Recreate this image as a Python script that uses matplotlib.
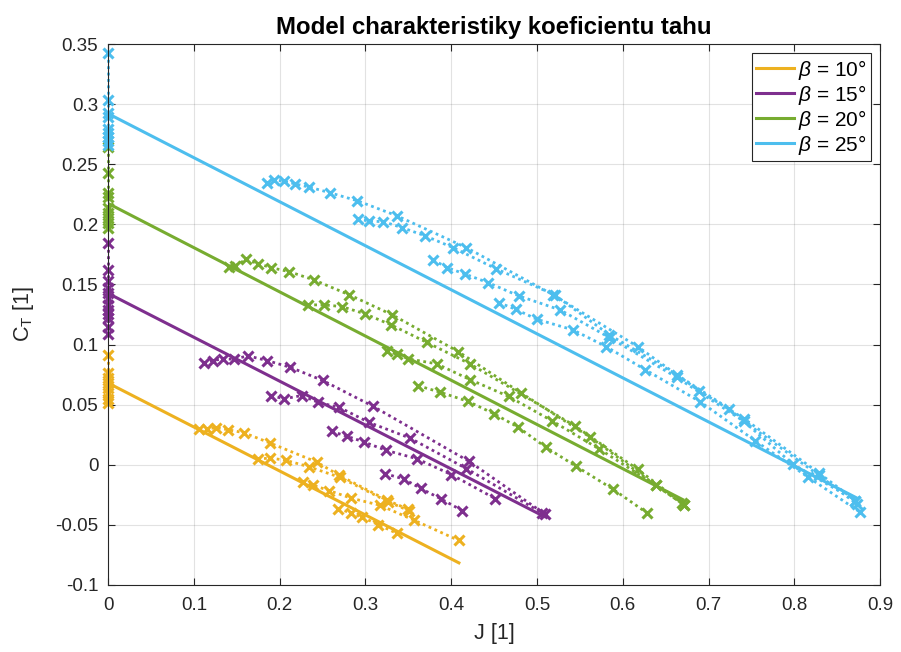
import matplotlib.pyplot as plt

plt.rcParams['font.family'] = ['Liberation Sans', 'DejaVu Sans']
plt.rcParams['mathtext.fontset'] = 'custom'
plt.rcParams['mathtext.rm'] = 'Liberation Sans'
plt.rcParams['mathtext.it'] = 'Liberation Sans:italic'

betas = [10, 15, 20, 25]
colors = ['#EDB120', '#7E2F8E', '#77AC30', '#4DBEEE']

# linear model of CT(J) for each pitch angle
model_J_end = [0.409, 0.508, 0.670, 0.873]
model_CT_start = [0.0680, 0.1426, 0.2174, 0.2921]
model_CT_end = [-0.0816, -0.0429, -0.0290, -0.0277]

# static measurements (J = 0)
static_CT_10 = [0.0909, 0.0762, 0.0718, 0.0676, 0.0635, 0.0593, 0.0551, 0.0512]
static_CT_15 = [0.1848, 0.1620, 0.1529, 0.1468, 0.1432, 0.1385, 0.1332, 0.1291,
                0.1257, 0.1218, 0.1150, 0.1086]
static_CT_20 = [0.2645, 0.2423, 0.2257, 0.2229, 0.2132, 0.2096, 0.2055, 0.2013, 0.1966]
static_CT_25 = [0.3428, 0.3032, 0.2927, 0.2894, 0.2794, 0.2761, 0.2728, 0.2694, 0.2661]

# wind tunnel sweeps, beta = 10
J_10 = [[0.1058, 0.1155, 0.1264, 0.1395, 0.1581, 0.1892, 0.2434, 0.2695, 0.3256, 0.3492],
        [0.1744, 0.1892, 0.2073, 0.2337, 0.2706, 0.3267, 0.3512],
        [0.2267, 0.2395, 0.2578, 0.2829, 0.3171, 0.3570, 0.4090],
        [0.2686, 0.2829, 0.2965, 0.3151, 0.3364]]
CT_10 = [[0.0300, 0.0300, 0.0308, 0.0292, 0.0267, 0.0180, 0.0022, -0.0088, -0.0296, -0.0368],
         [0.0047, 0.0056, 0.0037, -0.0016, -0.0105, -0.0308, -0.0383],
         [-0.0144, -0.0171, -0.0215, -0.0277, -0.0337, -0.0462, -0.0630],
         [-0.0365, -0.0401, -0.0437, -0.0498, -0.0570]]

# beta = 15
J_15 = [[0.1116, 0.1221, 0.1341, 0.1465, 0.1631, 0.1852, 0.2124, 0.2503, 0.3093, 0.4209, 0.5090],
        [0.1903, 0.2055, 0.2259, 0.2453, 0.2698, 0.3043, 0.3520, 0.4178, 0.5058],
        [0.2608, 0.2791, 0.2985, 0.3241, 0.3597, 0.4003, 0.4515],
        [0.3229, 0.3450, 0.3643, 0.3876, 0.4128]]
CT_15 = [[0.0845, 0.0867, 0.0881, 0.0878, 0.0906, 0.0867, 0.0811, 0.0701, 0.0485, 0.0028, -0.0409],
         [0.0574, 0.0549, 0.0576, 0.0518, 0.0477, 0.0352, 0.0222, -0.0032, -0.0400],
         [0.0277, 0.0236, 0.0189, 0.0120, 0.0051, -0.0082, -0.0282],
         [-0.0074, -0.0119, -0.0196, -0.0282, -0.0381]]

# beta = 20
J_20 = [[0.1407, 0.1485, 0.1608, 0.1748, 0.1899, 0.2113, 0.2403, 0.2814, 0.3314, 0.4081,
         0.4817, 0.5620, 0.6387, 0.6709],
        [0.2329, 0.2512, 0.2724, 0.2997, 0.3299, 0.3713, 0.4217, 0.5438, 0.6174, 0.6686],
        [0.3248, 0.3364, 0.3500, 0.3829, 0.4224, 0.4671, 0.5174, 0.5729, 0.6387, 0.6709],
        [0.3616, 0.3869, 0.4198, 0.4500, 0.4779, 0.5101, 0.5457, 0.5884, 0.6283]]
CT_20 = [[0.1648, 0.1656, 0.1708, 0.1673, 0.1640, 0.1606, 0.1537, 0.1413, 0.1247, 0.0942,
          0.0596, 0.0230, -0.0171, -0.0331],
         [0.1330, 0.1330, 0.1316, 0.1255, 0.1164, 0.1019, 0.0840, 0.0325, -0.0038, -0.0316],
         [0.0948, 0.0919, 0.0881, 0.0840, 0.0707, 0.0568, 0.0366, 0.0130, -0.0171, -0.0331],
         [0.0657, 0.0604, 0.0527, 0.0424, 0.0313, 0.0147, -0.0013, -0.0202, -0.0401]]

# beta = 25
J_25 = [[0.1852, 0.1930, 0.2047, 0.2174, 0.2345, 0.2590, 0.2907, 0.3364, 0.4178, 0.5186,
         0.6174, 0.6892, 0.7415, 0.8287, 0.8713],
        [0.2910, 0.3043, 0.3209, 0.3430, 0.3694, 0.4023, 0.4527, 0.5206, 0.5845, 0.6631,
         0.7241, 0.7988, 0.8713],
        [0.3791, 0.3953, 0.4159, 0.4430, 0.4791, 0.5271, 0.5845, 0.6631, 0.7415, 0.8287, 0.8733],
        [0.4555, 0.4752, 0.5000, 0.5419, 0.5806, 0.6264, 0.6903, 0.7543, 0.8159, 0.8764]]
CT_25 = [[0.2340, 0.2368, 0.2360, 0.2337, 0.2310, 0.2262, 0.2196, 0.2072, 0.1806, 0.1415,
          0.0983, 0.0615, 0.0383, -0.0069, -0.0298],
         [0.2044, 0.2027, 0.2022, 0.1972, 0.1905, 0.1806, 0.1629, 0.1413, 0.1081, 0.0749,
          0.0466, 0.0003, -0.0298],
         [0.1704, 0.1640, 0.1587, 0.1515, 0.1404, 0.1288, 0.1058, 0.0726, 0.0360, -0.0088, -0.0329],
         [0.1349, 0.1293, 0.1210, 0.1122, 0.0983, 0.0790, 0.0524, 0.0200, -0.0102, -0.0393]]

measured_J = [J_10, J_15, J_20, J_25]
measured_CT = [CT_10, CT_15, CT_20, CT_25]
static_CT = [static_CT_10, static_CT_15, static_CT_20, static_CT_25]

xticks = [0, 0.1, 0.2, 0.3, 0.4, 0.5, 0.6, 0.7, 0.8, 0.9]
xticklabels = ['0', '0.1', '0.2', '0.3', '0.4', '0.5', '0.6', '0.7', '0.8', '0.9']
yticks = [-0.1, -0.05, 0, 0.05, 0.1, 0.15, 0.2, 0.25, 0.3, 0.35]
yticklabels = ['-0.1', '-0.05', '0', '0.05', '0.1', '0.15', '0.2', '0.25', '0.3', '0.35']

fig = plt.figure(figsize=(9.01, 6.52), dpi=100)
ax = fig.add_axes([0.1199, 0.1028, 0.8569, 0.8297])

dots = (0, (1, 1.3))
for i in range(4):
    c = colors[i]
    for js, cts in zip(measured_J[i], measured_CT[i]):
        ax.plot(js, cts, linestyle=dots, color=c, lw=2, marker='x', ms=6.5, mew=2.2)
    ax.plot([0] * len(static_CT[i]), static_CT[i], linestyle=dots, color=c, lw=2,
            marker='x', ms=6.5, mew=2.2, clip_on=False)
    ax.plot([0, model_J_end[i]], [model_CT_start[i], model_CT_end[i]], '-', color=c,
            lw=2.2, label=r'$\beta$ = %d°' % betas[i])

ax.set_xlim(0, 0.9)
ax.set_ylim(-0.1, 0.35)
ax.set_xticks(xticks)
ax.set_xticklabels(xticklabels)
ax.set_yticks(yticks)
ax.set_yticklabels(yticklabels)
ax.grid(True, color='#262626', alpha=0.13, lw=0.8)
ax.set_axisbelow(True)
ax.tick_params(direction='in', length=5, width=0.8, colors='#262626', labelsize=13.5,
               top=True, right=True, labelcolor='#262626')
ax.tick_params(axis='x', pad=9)
ax.tick_params(axis='y', pad=7)
for s in ax.spines.values():
    s.set_color('#262626')
    s.set_linewidth(0.8)

ax.set_title('Model charakteristiky koeficientu tahu', fontsize=17.3, fontweight='bold', pad=7)
ax.set_xlabel('J [1]', fontsize=15.5, color='#262626', labelpad=6)
ax.set_ylabel(r'C$_\mathrm{T}$ [1]', fontsize=15.5, color='#262626', labelpad=14)

leg = ax.legend(loc='upper right', fontsize=15, fancybox=False, framealpha=1,
                edgecolor='#262626', borderaxespad=0.45, handlelength=1.8, handletextpad=0.2,
                labelspacing=0.05, borderpad=0.2)
leg.get_frame().set_linewidth(0.8)

fig.savefig('out.png', dpi=100)
